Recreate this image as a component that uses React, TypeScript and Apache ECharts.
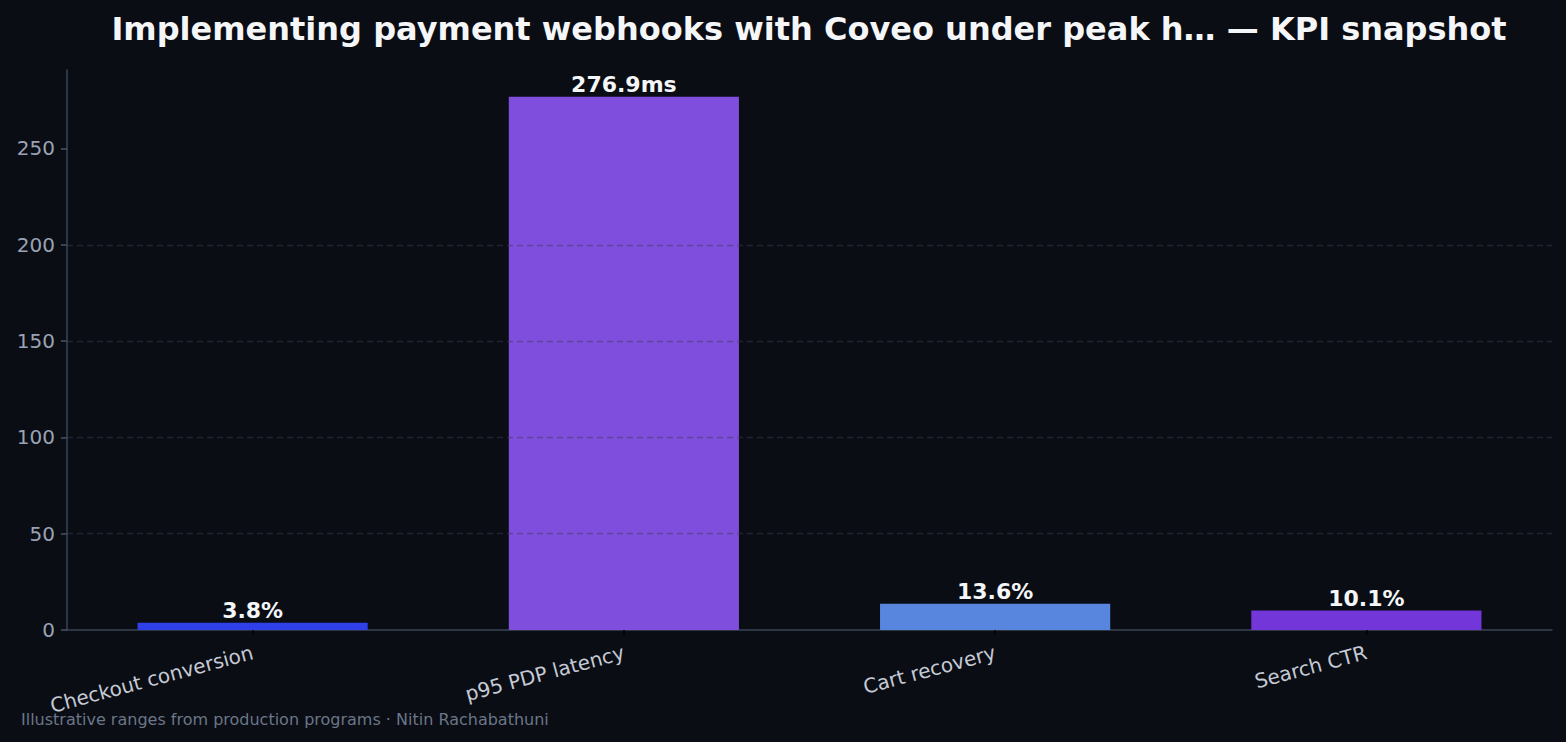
import React, { useEffect, useRef } from "react";
import * as echarts from "echarts";

const categories = ["Checkout conversion", "p95 PDP latency", "Cart recovery", "Search CTR"];
const values = [3.8, 276.9, 13.6, 10.1];
const units = ["%", "ms", "%", "%"];
const barColors = ["#3040e8", "#804edc", "#5886de", "#7337d9"];
const yTicks = [0, 50, 100, 150, 200, 250];
const titleText = "Implementing payment webhooks with Coveo under peak h\u2026 \u2014 KPI snapshot";
const footerText = "Illustrative ranges from production programs \u00b7 Nitin Rachabathuni";

const FONT = "DejaVu Sans";

export default function App() {
  const ref = useRef<HTMLDivElement>(null);
  useEffect(() => {
    document.body.style.background = "#0a0d14";
    const chart = echarts.init(ref.current!, null, { renderer: "svg" });
    const yMax = Math.max(...values) * 1.05;
    chart.setOption({
      animation: false,
      backgroundColor: "#0a0d14",
      title: {
        text: titleText,
        left: 804,
        top: 8,
        textAlign: "center",
        textStyle: { color: "#f5f6f8", fontFamily: FONT, fontWeight: "bold", fontSize: 32 },
      },
      grid: { left: 67, right: 14, top: 70, bottom: 112, containLabel: false },
      xAxis: {
        type: "category",
        data: categories,
        axisLine: { show: true, lineStyle: { color: "#3a4456", width: 1.5 } },
        axisTick: { show: true, alignWithLabel: true, length: 5, lineStyle: { color: "#000000", width: 1.5 } },
        axisLabel: {
          color: "#c5cad4",
          fontFamily: FONT,
          fontSize: 20,
          rotate: 15,
          margin: 22,
          interval: 0,
        },
      },
      yAxis: {
        type: "value",
        min: 0,
        max: yMax,
        interval: 50,
        z: 3,
        axisLine: { show: true, lineStyle: { color: "#3a4456", width: 1.5 } },
        axisTick: { show: true, length: 6, customValues: yTicks, lineStyle: { color: "#4a5366", width: 1.5 } },
        axisLabel: {
          color: "#9aa3b5",
          fontFamily: FONT,
          fontSize: 20,
          margin: 12,
          customValues: yTicks,
        },
        splitLine: {
          show: true,
          showMinLine: false,
          showMaxLine: false,
          lineStyle: { color: "rgba(55,60,85,0.5)", type: [6, 4], width: 1.3 },
        },
      },
      series: [
        {
          type: "bar",
          barWidth: "62%",
          data: values.map((v, i) => ({ value: v, itemStyle: { color: barColors[i] } })),
          label: {
            show: true,
            position: "top",
            distance: 1,
            color: "#f5f6f8",
            fontFamily: FONT,
            fontWeight: "bold",
            fontSize: 22,
            formatter: (p: any) => `${values[p.dataIndex]}${units[p.dataIndex]}`,
          },
        },
      ],
      graphic: [
        {
          type: "text",
          left: 21,
          top: 711,
          style: { text: footerText, fill: "#6b7688", font: `16px "${FONT}"` },
        },
      ],
    });
    return () => chart.dispose();
  }, []);
  return (
    <div
      ref={ref}
      style={{ position: "absolute", left: 0, top: 0, width: 1566, height: 742 }}
    />
  );
}
